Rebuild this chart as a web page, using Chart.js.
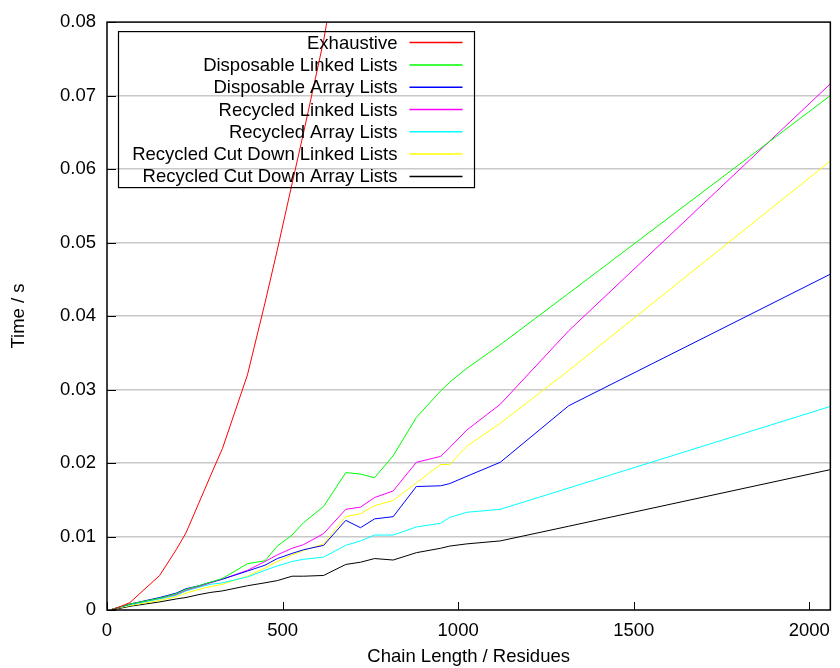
<!DOCTYPE html>
<html>
<head>
<meta charset="utf-8">
<title>Chain length timings</title>
<script src="https://cdn.jsdelivr.net/npm/chart.js@4.4.1/dist/chart.umd.min.js"></script>
<style>
  body { margin: 0; background: #fff; }
  #myChart { display: block; }
</style>
</head>
<body>
<canvas id="myChart" width="840" height="668"></canvas>
<script>
// chain lengths (residues) the timings were taken at
var chainLengths = [14, 65, 150, 197, 225, 262, 296, 329, 400, 450, 485, 527, 560, 617, 680, 722, 762, 815, 881, 950, 976, 1025, 1120, 1315, 2060];

// times in seconds, one list per method
var exhaustive = [0, 0.0010, 0.0047, 0.0082, 0.0105, 0.0146, 0.0184, 0.0220, 0.0320, 0.0418, 0.0490, 0.0580, 0.0650, 0.0775, 0.0950];
var disposableLinked = [0.0001, 0.0008, 0.0016, 0.0022, 0.0028, 0.0033, 0.0038, 0.0043, 0.0063, 0.0067, 0.0087, 0.0102, 0.0119, 0.0141, 0.0187, 0.0185, 0.0180, 0.0210, 0.0262, 0.0298, 0.0310, 0.0329, 0.0361, 0.0431, 0.0700];
var disposableArray = [0.0001, 0.0008, 0.0017, 0.0023, 0.0029, 0.0033, 0.0038, 0.0042, 0.0053, 0.0061, 0.0070, 0.0077, 0.0082, 0.0088, 0.0122, 0.0112, 0.0124, 0.0127, 0.0168, 0.0169, 0.0172, 0.0182, 0.0201, 0.0278, 0.0457];
var recycledLinked = [0.0001, 0.0008, 0.0016, 0.0021, 0.0027, 0.0032, 0.0037, 0.0042, 0.0054, 0.0066, 0.0075, 0.0084, 0.0089, 0.0104, 0.0137, 0.0140, 0.0153, 0.0162, 0.0201, 0.0209, 0.0221, 0.0245, 0.0280, 0.0380, 0.0716];
var recycledArray = [0.0001, 0.0007, 0.0015, 0.0020, 0.0026, 0.0031, 0.0035, 0.0037, 0.0045, 0.0054, 0.0060, 0.0066, 0.0069, 0.0072, 0.0088, 0.0094, 0.0102, 0.0102, 0.0113, 0.0118, 0.0126, 0.0133, 0.0137, 0.0166, 0.0277];
var cutDownLinked = [0.0001, 0.0006, 0.0013, 0.0018, 0.0023, 0.0028, 0.0032, 0.0035, 0.0046, 0.0057, 0.0066, 0.0075, 0.0081, 0.0090, 0.0127, 0.0131, 0.0142, 0.0149, 0.0173, 0.0198, 0.0198, 0.0223, 0.0254, 0.0326, 0.0611];
var cutDownArray = [0, 0.0005, 0.0011, 0.0015, 0.0017, 0.0021, 0.0024, 0.0026, 0.0033, 0.0037, 0.0040, 0.0046, 0.0046, 0.0047, 0.0062, 0.0065, 0.0070, 0.0068, 0.0078, 0.0084, 0.0087, 0.0090, 0.0094, 0.0114, 0.0191];

var seriesNames = ['Exhaustive', 'Disposable Linked Lists', 'Disposable Array Lists', 'Recycled Linked Lists', 'Recycled Array Lists', 'Recycled Cut Down Linked Lists', 'Recycled Cut Down Array Lists'];
var seriesColors = ['#ff0000', '#00ff00', '#0000ff', '#ff00ff', '#00ffff', '#ffff00', '#000000'];

var xTickLabels = ['0', '500', '1000', '1500', '2000'];
var yTickLabels = ['0', '0.01', '0.02', '0.03', '0.04', '0.05', '0.06', '0.07', '0.08'];

var FONT = "'Liberation Sans', Arial, Helvetica, sans-serif";

function toPoints(values) {
    var pts = [];
    for (var i = 0; i < values.length; i++) {
        pts.push({x: chainLengths[i], y: values[i]});
    }
    return pts;
}

var allSeries = [exhaustive, disposableLinked, disposableArray, recycledLinked, recycledArray, cutDownLinked, cutDownArray];
var datasets = [];
for (var s = 0; s < allSeries.length; s++) {
    datasets.push({
        label: seriesNames[s],
        data: toPoints(allSeries[s]),
        showLine: true,
        fill: false,
        borderColor: seriesColors[s],
        backgroundColor: seriesColors[s],
        borderWidth: 1,
        pointRadius: 0,
        tension: 0
    });
}

// gnuplot look: frame, inward tics, key box with samples on the right
var gnuplotBits = {
    id: 'gnuplotBits',
    afterDatasetsDraw: function(chart) {
        var ctx = chart.ctx;
        var a = chart.chartArea;
        var xs = chart.scales.x, ys = chart.scales.y;
        ctx.save();
        ctx.strokeStyle = '#000';
        ctx.lineWidth = 1;
        // tics
        ctx.beginPath();
        xTickLabels.forEach(function(t) {
            var px = Math.round(xs.getPixelForValue(Number(t))) + 0.5;
            ctx.moveTo(px, a.bottom);
            ctx.lineTo(px, a.bottom - 8);
        });
        yTickLabels.forEach(function(t) {
            var py = Math.round(ys.getPixelForValue(Number(t))) + 0.5;
            ctx.moveTo(a.left, py);
            ctx.lineTo(a.left + 9, py);
        });
        ctx.stroke();
        // frame
        ctx.lineWidth = 1.5;
        ctx.strokeRect(a.left, a.top, a.right - a.left, a.bottom - a.top);

        // key
        var bx = a.left + 11.5, by = a.top + 9.5;
        ctx.lineWidth = 1.2;
        ctx.strokeRect(bx, by, 356, 156);
        ctx.font = '18.5px ' + FONT;
        ctx.textAlign = 'right';
        ctx.textBaseline = 'middle';
        for (var i = 0; i < chart.data.datasets.length; i++) {
            var rowY = by + 11 + i * 22.3;
            ctx.fillStyle = '#000';
            ctx.fillText(seriesNames[i], bx + 279, rowY + 1);
            ctx.strokeStyle = seriesColors[i];
            ctx.lineWidth = 1.5;
            ctx.beginPath();
            ctx.moveTo(bx + 291, rowY);
            ctx.lineTo(bx + 344, rowY);
            ctx.stroke();
        }
        ctx.restore();
    }
};

var ctx = document.getElementById('myChart').getContext('2d');
var myChart = new Chart(ctx, {
    type: 'scatter',
    data: { datasets: datasets },
    plugins: [gnuplotBits],
    options: {
        responsive: false,
        animation: false,
        devicePixelRatio: 1,
        layout: { padding: { top: 20, right: 5, left: 0, bottom: 0 } },
        plugins: {
            legend: { display: false },
            tooltip: { enabled: false }
        },
        scales: {
            x: {
                type: 'linear',
                min: 0,
                max: 2060,
                afterFit: function(scale) { scale.height = 58; },
                afterBuildTicks: function(scale) {
                    scale.ticks = xTickLabels.map(function(t) { return {value: Number(t)}; });
                },
                ticks: {
                    padding: 10,
                    color: '#000',
                    font: { family: FONT, size: 18.5 },
                    maxRotation: 0,
                    callback: function(v) { return String(v); }
                },
                grid: { display: false, drawTicks: false },
                border: { display: false },
                title: {
                    display: true,
                    text: 'Chain Length / Residues',
                    color: '#000',
                    font: { family: FONT, size: 18.5 },
                    padding: { top: 0, bottom: 0 }
                }
            },
            y: {
                type: 'linear',
                min: 0,
                max: 0.08,
                afterFit: function(scale) { scale.width = 107; },
                afterBuildTicks: function(scale) {
                    scale.ticks = yTickLabels.map(function(t) { return {value: Number(t)}; });
                },
                ticks: {
                    padding: 11,
                    color: '#000',
                    font: { family: FONT, size: 18.5 },
                    callback: function(v) {
                        var i = yTickLabels.map(Number).indexOf(v);
                        return i >= 0 ? yTickLabels[i] : '';
                    }
                },
                grid: {
                    drawTicks: false,
                    lineWidth: 1.5,
                    color: function(c) {
                        if (!c.tick || c.tick.value === 0 || c.tick.value === 0.08) return 'rgba(0,0,0,0)';
                        return '#c8c8c8';
                    }
                },
                border: { display: false },
                title: {
                    display: true,
                    text: 'Time / s',
                    color: '#000',
                    font: { family: FONT, size: 18.5 },
                    padding: { top: 8, bottom: 0 }
                }
            }
        }
    }
});
</script>
</body>
</html>
